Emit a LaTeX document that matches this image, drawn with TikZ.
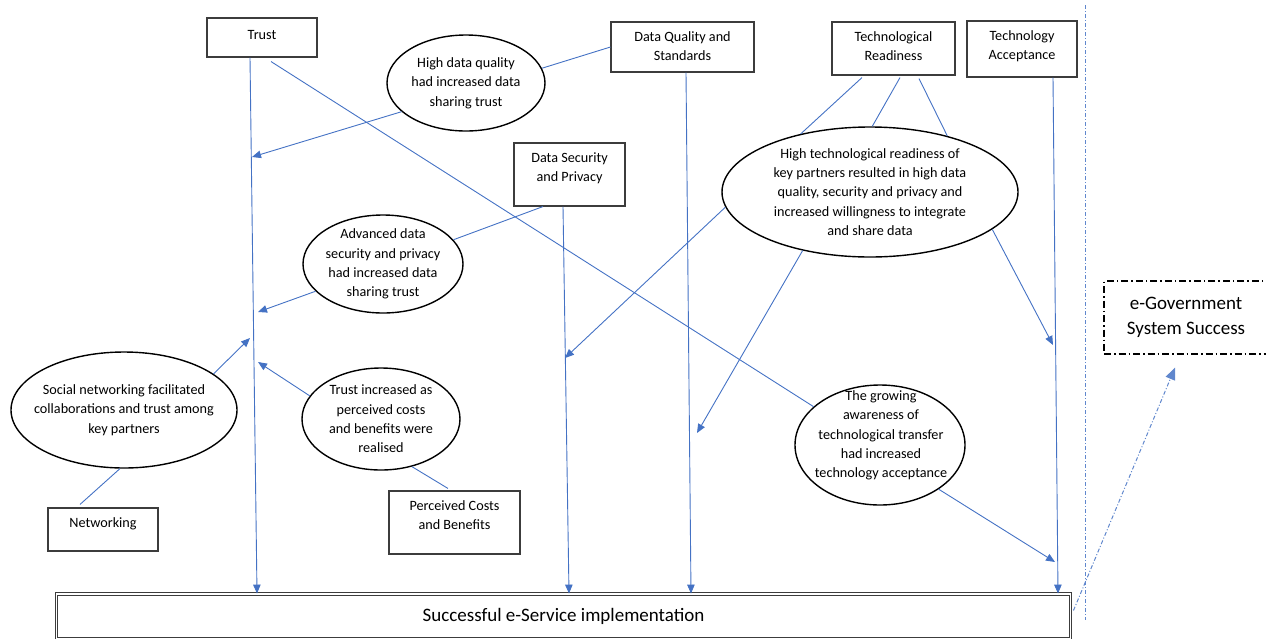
\documentclass[tikz,border=0pt]{standalone}
\usepackage{fontspec}
\setmainfont{Carlito}
\usetikzlibrary{shapes.geometric,arrows.meta}
\definecolor{linkblue}{RGB}{68,114,196}
\definecolor{framegray}{RGB}{60,60,60}
\newcommand\diagfont{\fontsize{14.2pt}{19.3pt}\selectfont}
\newcommand\headfont{\fontsize{19pt}{25pt}\selectfont}
% text block pinned to the top of a factor box of fixed size
\newcommand\boxlabel[4][19pt]{\parbox[c][#3][t]{#2}{\diagfont\centering\rule{0pt}{#1}#4}}

\begin{document}
\begin{tikzpicture}[x=1pt,y=-1pt,
  factor/.style={draw=framegray, line width=1.1pt, inner sep=0pt, fill=white},
  oval/.style={ellipse, draw=black, line width=1.4pt, inner sep=0pt, fill=white},
  ovaltext/.style={align=center, font=\diagfont, inner sep=0pt},
  link/.style={draw=linkblue, line width=0.9pt},
  linkarrow/.style={link, -{Triangle[length=9pt,width=7.5pt]}},
  sep/.style={draw=linkblue!85, line width=1pt, dash pattern=on 4pt off 2pt on 1pt off 2pt},
]
\useasboundingbox (0,0) rectangle (1266,638);

% factor boxes
\node[factor] (trust) at (262,37.5)  {\boxlabel[21pt]{110pt}{39pt}{Trust}};
\node[factor] (dq)    at (682.5,47)  {\boxlabel{143pt}{50pt}{Data Quality and\\Standards}};
\node[factor] (tr)    at (893.5,48.5){\boxlabel{123pt}{53pt}{Technological\\Readiness}};
\node[factor] (ta)    at (1022,49)   {\boxlabel{110pt}{56pt}{Technology\\Acceptance}};
\node[factor] (dsp)   at (569.5,174.5){\boxlabel{111pt}{63pt}{Data Security\\and Privacy}};
\node[factor] (net)   at (103,529.5) {\boxlabel[19.5pt]{110pt}{43pt}{Networking}};
\node[factor] (pcb)   at (454.5,522.5){\boxlabel{131pt}{63pt}{Perceived Costs\\and Benefits}};

% outcome boxes
\node[draw=framegray, double=white, double distance=1.6pt, line width=0.9pt,
      minimum width=1014pt, minimum height=45pt, inner sep=0pt, font=\headfont]
      (impl) at (563.5,616.5) {Successful e-Service implementation};
\node[draw=black, line width=1.3pt, dash pattern=on 7pt off 3pt on 1.5pt off 3pt,
      minimum width=164pt, minimum height=73pt, inner sep=0pt, align=center, font=\headfont]
      (egov) at (1186,317.5) {e-Government\\System Success};

% findings
\node[oval, minimum width=158pt, minimum height=96pt] (e1) at (466,83) {};
\node[ovaltext] (e1t) at (e1) {High data quality\\had increased data\\sharing trust};
\node[oval, minimum width=160pt, minimum height=98pt] (e2) at (383,264) {};
\node[ovaltext] (e2t) at (e2) {Advanced data\\security and privacy\\had increased data\\sharing trust};
\node[oval, minimum width=226pt, minimum height=116pt] (e3) at (124,410) {};
\node[ovaltext] (e3t) at (e3) {Social networking facilitated\\collaborations and trust among\\key partners};
\node[oval, minimum width=158pt, minimum height=102pt] (e4) at (381,419) {};
\node[ovaltext] (e4t) at (e4) {Trust increased as\\perceived costs\\and benefits were\\realised};
\node[oval, minimum width=296pt, minimum height=130pt] (e5) at (870,192) {};
\node[ovaltext] (e5t) at (e5) {High technological readiness of\\key partners resulted in high data\\quality, security and privacy and\\increased willingness to integrate\\and share data};
\node[oval, minimum width=170pt, minimum height=120pt] (e6) at (880,445) {};
\node[ovaltext] (e6t) at (881,435.5) {The growing\\awareness of\\technological transfer\\had increased\\technology acceptance};

% points where findings meet the factor lines
\coordinate (t1) at (252,157);
\coordinate (t2) at (258,312);
\coordinate (t3) at (250,338);
\coordinate (t4) at (258,362);
\coordinate (s1) at (565,358);
\coordinate (q1) at (697,433);
\coordinate (a1) at (1053,345);
\coordinate (a2) at (1055,562);

% factor lines into implementation
\draw[linkarrow] ([xshift=-12pt]trust.south) -- ([xshift=-306.5pt]impl.north);
\draw[linkarrow] ([xshift=-6.5pt]dsp.south) -- ([xshift=5.5pt]impl.north);
\draw[linkarrow] ([xshift=3.5pt]dq.south) -- ([xshift=127.5pt]impl.north);
\draw[linkarrow] ([xshift=31pt]ta.south) -- ([xshift=494.5pt]impl.north);

% factors to findings
\draw[link] ([xshift=9pt,yshift=-4pt]trust.south) -- (e6.150);
\draw[link] (dq.west) -- (e1.11);
\draw[link] ([xshift=-26.5pt]dsp.south) -- (e2.19);
\draw[link] ([xshift=-23pt,yshift=3pt]net.north) -- (e3.266);
\draw[link] ([xshift=-6.5pt,yshift=2pt]pcb.north) -- (e4.303);
\draw[link] ([xshift=-31.5pt,yshift=-2pt]tr.south) -- (e5.140);
\draw[link] ([xshift=6.5pt,yshift=-2pt]tr.south) -- (e5.88);
\draw[link] ([xshift=25.5pt,yshift=-3pt]tr.south) -- (e5.36);

% findings to factor lines
\draw[linkarrow] (e1.204) -- (t1);
\draw[linkarrow] (e2.202) -- (t2);
\draw[linkarrow] (e3.22) -- (t3);
\draw[linkarrow] (e4.162) -- (t4);
\draw[linkarrow] (e5.186) -- (s1);
\draw[linkarrow] (e5.221) -- (q1);
\draw[linkarrow] (e5.343) -- (a1);
\draw[linkarrow] (e6.323) -- (a2);

% boundary and overall outcome
\draw[sep] (1085,5) -- (1085,620);
\draw[sep, -{Triangle[length=12pt,width=10pt]}] ([xshift=2.5pt,yshift=6pt]impl.east) -- ([xshift=-11pt,yshift=-13pt]egov.south);
\end{tikzpicture}
\end{document}
